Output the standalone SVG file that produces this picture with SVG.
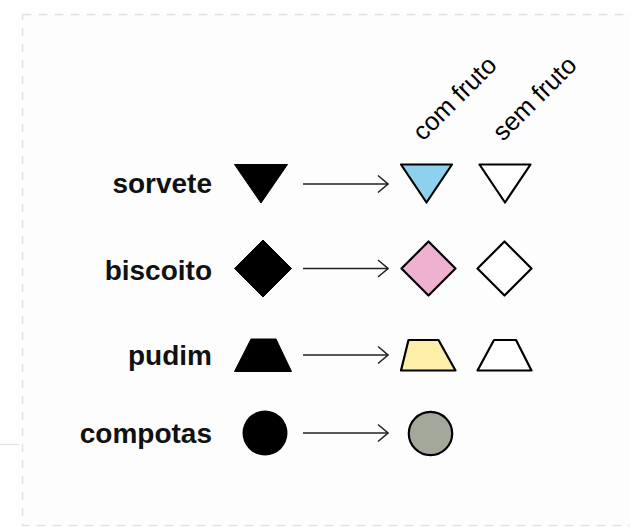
<svg xmlns="http://www.w3.org/2000/svg" width="630" height="528" viewBox="0 0 630 528">
<style>
.lbl{font-family:"Liberation Sans",Arial,sans-serif;font-weight:bold;font-size:28px;fill:#111;text-anchor:end}
.col{font-family:"Liberation Sans",Arial,sans-serif;font-size:25.5px;fill:#000}
.blk{fill:#000;stroke:#000;stroke-width:1;stroke-linejoin:round}
.out{stroke:#000;stroke-width:2.2;stroke-linejoin:round}
.conn{stroke:#222;stroke-width:1.4;fill:none}
</style>
<defs>
<marker id="arr" viewBox="0 0 12 20" refX="11" refY="10" markerWidth="12" markerHeight="20" markerUnits="userSpaceOnUse" orient="auto">
<path d="M1,1.5 L11,10 L1,18.5" fill="none" stroke="#222" stroke-width="1.5"/>
</marker>
</defs>
<rect x="0" y="0" width="630" height="528" fill="#fff"/>
<rect x="22.5" y="14.5" width="620" height="511" fill="#fdfdfd" stroke="#e2e2e2" stroke-width="1.5" stroke-dasharray="9 7"/>
<line x1="0" y1="444.5" x2="19" y2="444.5" stroke="#e2e2e2" stroke-width="1.2"/>
<g id="headers">
<text class="col" transform="translate(423,142) rotate(-45)">com fruto</text>
<text class="col" transform="translate(503,142) rotate(-45)">sem fruto</text>
</g>
<g id="sorvete">
<text class="lbl" x="212" y="193">sorvete</text>
<polygon class="blk" points="234.5,164.5 287.5,164.5 261,203"/>
</g>
<g id="sorvete-com">
<polygon class="out" fill="#8ed1ee" points="401,164.5 452,164.5 426.5,202.5"/>
</g>
<g id="sorvete-sem">
<polygon class="out" fill="#fff" points="479.5,164.5 530.5,164.5 505,202.5"/>
</g>
<g id="biscoito">
<text class="lbl" x="212" y="280">biscoito</text>
<polygon class="blk" points="234.5,268.5 263,240 291.5,268.5 263,297"/>
</g>
<g id="biscoito-com">
<polygon class="out" fill="#f0b0d0" points="401.5,268.5 428.5,241.5 455.5,268.5 428.5,295.5"/>
</g>
<g id="biscoito-sem">
<polygon class="out" fill="#fff" points="477.5,268.5 504.5,241.5 531.5,268.5 504.5,295.5"/>
</g>
<g id="pudim">
<text class="lbl" x="212" y="365">pudim</text>
<polygon class="blk" points="251,339 276,339 291.5,371.5 234.5,371.5"/>
</g>
<g id="pudim-com">
<polygon class="out" fill="#fdeeaa" points="408.5,340 438.5,340 455.5,370.5 401,370.5"/>
</g>
<g id="pudim-sem">
<polygon class="out" fill="#fff" points="494,340 516,340 531.5,370.5 477.5,370.5"/>
</g>
<g id="compotas">
<text class="lbl" x="212" y="443">compotas</text>
<circle cx="265" cy="433" r="22.5" fill="#000"/>
</g>
<g id="compotas-com">
<circle class="out" cx="430.5" cy="433.5" r="21.7" fill="#a3a89a"/>
</g>
<g id="connectors">
<line class="conn" x1="303" y1="184" x2="388" y2="184" marker-end="url(#arr)"/>
<line class="conn" x1="303" y1="268.5" x2="388" y2="268.5" marker-end="url(#arr)"/>
<line class="conn" x1="303" y1="355" x2="388" y2="355" marker-end="url(#arr)"/>
<line class="conn" x1="303" y1="433" x2="388" y2="433" marker-end="url(#arr)"/>
</g>
</svg>
